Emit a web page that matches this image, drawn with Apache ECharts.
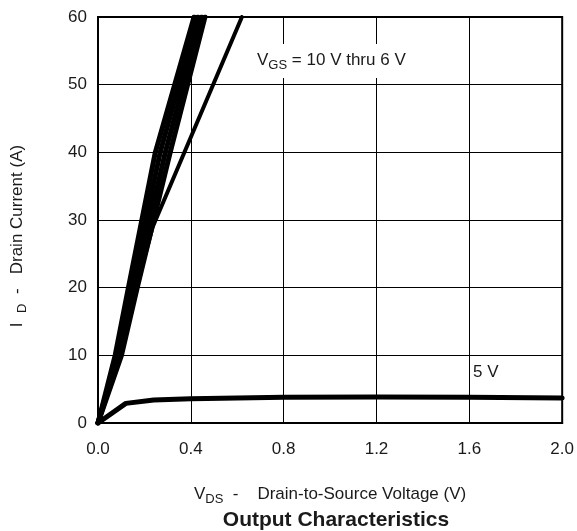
<!DOCTYPE html>
<html>
<head>
<meta charset="utf-8">
<script src="https://cdn.jsdelivr.net/npm/echarts@6/dist/echarts.min.js"></script>
<style>
html,body{margin:0;padding:0;background:#fff;}
#c{width:577px;height:531px;}
</style>
</head>
<body>
<div id="c"></div>
<script>
// Data
const xTicks = ['0.0','0.4','0.8','1.2','1.6','2.0'];
const yTicks = ['0','10','20','30','40','50','60'];

const id_bundle = [0, 10, 20, 40, 60];
const vds_10V = [0, 0.074, 0.131, 0.247, 0.414];
const vds_9V  = [0, 0.083, 0.144, 0.268, 0.430];
const vds_8V  = [0, 0.092, 0.156, 0.290, 0.446];
const vds_7V  = [0, 0.101, 0.169, 0.311, 0.461];

const vds_6V = [0, 0.085, 0.165, 0.236, 0.620];
const id_6V  = [0, 10, 20, 29, 60];

const vds_5V = [0, 0.12, 0.24, 0.40, 0.80, 1.20, 1.60, 2.00];
const id_5V  = [0, 2.9, 3.4, 3.6, 3.8, 3.85, 3.8, 3.7];

function pairs(xs, ys){ return xs.map((x,i)=>[x, ys[i]]); }

const FONT = 'Liberation Sans, Arial, Helvetica, sans-serif';
const TXT = '#1a1a1a';

function lineSeries(name, data, w){
  return {
    name: name, type: 'line', data: data, showSymbol: false, symbol: 'none',
    lineStyle: {color: '#000', width: w, join: 'round', cap: 'round'}, z: 3, silent: true, animation: false
  };
}

const chart = echarts.init(document.getElementById('c'));
chart.setOption({
  animation: false,
  backgroundColor: '#fff',
  grid: {left: 98, right: 13, top: 17, bottom: 108, show: true, borderColor: '#000', borderWidth: 2},
  title: {
    text: 'Output Characteristics', left: 331, top: 503, textAlign: 'center',
    textStyle: {fontFamily: FONT, fontWeight: 'bold', fontSize: 21, color: TXT, lineHeight: 24}
  },
  xAxis: {
    type: 'value', min: 0, max: 2, interval: 0.4,
    axisLine: {show: true, lineStyle: {color: '#000', width: 2}},
    axisTick: {show: false},
    splitLine: {show: true, lineStyle: {color: '#000', width: 1}},
    axisLabel: {
      margin: 18, fontFamily: FONT, fontSize: 17, color: TXT,
      formatter: function(v){ const i = Math.round(v/0.4); return xTicks[i] !== undefined ? xTicks[i] : v.toFixed(1); }
    },
    name: '{n|V}{s|DS}{n|  -    Drain-to-Source Voltage (V)}',
    nameLocation: 'middle', nameGap: 61,
    nameTextStyle: {
      fontFamily: FONT, color: TXT,
      rich: {
        n: {fontFamily: FONT, fontSize: 17, color: TXT, lineHeight: 20, verticalAlign: 'middle'},
        s: {fontFamily: FONT, fontSize: 13, color: TXT, lineHeight: 20, verticalAlign: 'middle', padding: [10,0,0,0]}
      }
    }
  },
  yAxis: {
    type: 'value', min: 0, max: 60, interval: 10,
    axisLine: {show: true, lineStyle: {color: '#000', width: 2}},
    axisTick: {show: false},
    splitLine: {show: true, lineStyle: {color: '#000', width: 1}},
    axisLabel: {
      margin: 11, fontFamily: FONT, fontSize: 17, color: TXT,
      formatter: function(v){ const i = Math.round(v/10); return yTicks[i] !== undefined ? yTicks[i] : String(v); }
    }
  },
  graphic: [
    {
      type: 'text', x: 17, y: 236, rotation: Math.PI/2, z: 10,
      style: {
        text: '{n|I  }{s|D}{n|  -   Drain Current (A)}',
        align: 'center', verticalAlign: 'middle',
        rich: {
          n: {fontFamily: FONT, fontSize: 17, fill: TXT, lineHeight: 20, verticalAlign: 'middle'},
          s: {fontFamily: FONT, fontSize: 13, fill: TXT, lineHeight: 20, verticalAlign: 'middle', padding: [10,0,0,0]}
        }
      }
    },
    {
      type: 'text', x: 253, y: 61, z: 10,
      style: {
        text: '{n|V}{s|GS}{n| = 10 V thru 6 V}',
        align: 'left', verticalAlign: 'middle',
        backgroundColor: '#fff', padding: [6,4,8,4],
        rich: {
          n: {fontFamily: FONT, fontSize: 17, fill: TXT, lineHeight: 20, verticalAlign: 'middle'},
          s: {fontFamily: FONT, fontSize: 13, fill: TXT, lineHeight: 20, verticalAlign: 'middle', padding: [10,0,0,0]}
        }
      }
    },
    {
      type: 'text', x: 470, y: 372, z: 10,
      style: {
        text: '5 V', fontFamily: FONT, fontSize: 17, fill: TXT,
        align: 'left', verticalAlign: 'middle',
        backgroundColor: '#fff', padding: [3,3,12,3]
      }
    }
  ],
  series: [
    lineSeries('10 V', pairs(vds_10V, id_bundle), 5),
    lineSeries('9 V', pairs(vds_9V, id_bundle), 5),
    lineSeries('8 V', pairs(vds_8V, id_bundle), 5),
    lineSeries('7 V', pairs(vds_7V, id_bundle), 5),
    lineSeries('6 V', pairs(vds_6V, id_6V), 4),
    lineSeries('5 V', pairs(vds_5V, id_5V), 5)
  ]
});
</script>
</body>
</html>
